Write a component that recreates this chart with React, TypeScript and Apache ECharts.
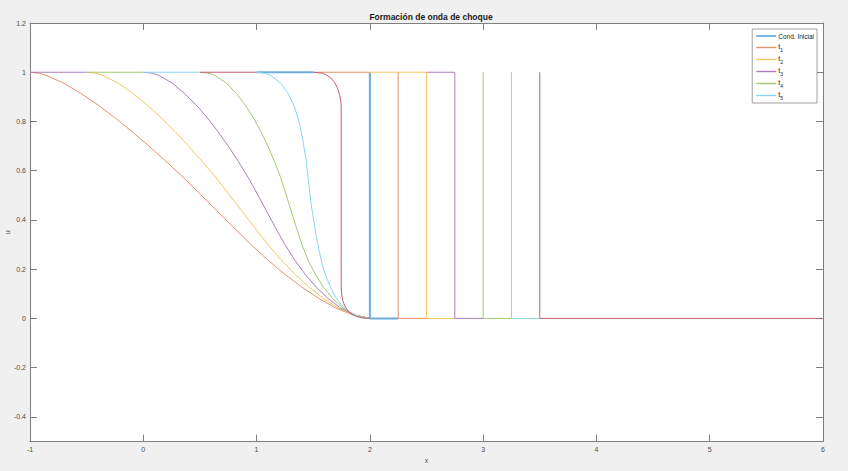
import React, { useEffect, useRef } from "react";
import * as echarts from "echarts";

// ---- data ----
const legendNames = ["Cond. Inicial", "t₁", "t₂", "t₃", "t₄", "t₅"];
const legendSubs = ["", "1", "2", "3", "4", "5"];
const lastName = "t₆";

const xTicks = [-1, 0, 1, 2, 3, 4, 5, 6];
const yTicks = [-0.4, -0.2, 0, 0.2, 0.4, 0.6, 0.8, 1, 1.2];

// Initial condition (step)
const condTop = [[1, 1], [1.5, 1]];
const condStep = [[2, 1], [2, 0], [2.25, 0]];

// t1 (orange)
const t1Profile = [
  [-1, 1], [-0.92, 0.996], [-0.85, 0.986], [-0.7, 0.955], [-0.55, 0.914], [-0.4, 0.867], [-0.25, 0.815],
  [-0.1, 0.759], [0.05, 0.7], [0.2, 0.638], [0.35, 0.574], [0.5, 0.506], [0.65, 0.437],
  [0.8, 0.368], [0.95, 0.3], [1.1, 0.237], [1.25, 0.179], [1.4, 0.127], [1.55, 0.081],
  [1.7, 0.042], [1.85, 0.014], [2, 0],
];
const t1Top = [[1.5, 1], [2, 1]];
const t1Step = [[2.25, 1], [2.25, 0], [2.5, 0]];

// t2 (yellow)
const t2Profile = [
  [-0.5, 1], [-0.42, 0.996], [-0.356, 0.987], [-0.222, 0.956], [-0.093, 0.914], [0.034, 0.867], [0.158, 0.815],
  [0.28, 0.759], [0.4, 0.7], [0.519, 0.638], [0.637, 0.574], [0.753, 0.506], [0.869, 0.437],
  [0.984, 0.368], [1.1, 0.3], [1.219, 0.237], [1.34, 0.179], [1.464, 0.127], [1.591, 0.081],
  [1.721, 0.042], [1.857, 0.014], [2, 0],
];
const t2Step = [[2, 1], [2.5, 1], [2.5, 0], [2.75, 0]];

// t3 (purple)
const t3Top = [[-1, 1], [-0.5, 1]];
const t3Profile = [
  [0, 1], [0.08, 0.996], [0.138, 0.987], [0.256, 0.956], [0.364, 0.914], [0.467, 0.867], [0.565, 0.815],
  [0.659, 0.759], [0.75, 0.7], [0.838, 0.638], [0.924, 0.574], [1.006, 0.506], [1.087, 0.437],
  [1.168, 0.368], [1.25, 0.3], [1.337, 0.237], [1.429, 0.179], [1.527, 0.127], [1.631, 0.081],
  [1.742, 0.042], [1.864, 0.014], [2, 0],
];
const t3Step = [[2.5, 1], [2.75, 1], [2.75, 0], [3, 0]];

// t4 (green)
const t4Top = [[-0.5, 1], [0, 1]];
const t4Profile = [
  [0.5, 1], [0.58, 0.996], [0.632, 0.987], [0.734, 0.956], [0.821, 0.914], [0.9, 0.867], [0.972, 0.815],
  [1.038, 0.759], [1.1, 0.7], [1.157, 0.638], [1.211, 0.574], [1.259, 0.506], [1.305, 0.437],
  [1.352, 0.368], [1.4, 0.3], [1.455, 0.237], [1.518, 0.179], [1.59, 0.127], [1.671, 0.081],
  [1.763, 0.042], [1.871, 0.014], [2, 0],
];
const t4Step = [[3, 1], [3, 0], [3.25, 0]];

// t5 (light blue)
const t5Top = [[0, 1], [0.5, 1]];
const t5Profile = [
  [1, 1], [1.07, 0.996], [1.126, 0.987], [1.212, 0.956], [1.278, 0.914], [1.334, 0.86], [1.38, 0.79],
  [1.41, 0.72], [1.438, 0.64], [1.46, 0.55], [1.48, 0.47], [1.5, 0.41], [1.525, 0.34],
  [1.555, 0.268], [1.585, 0.21], [1.614, 0.17], [1.654, 0.125], [1.7, 0.085], [1.75, 0.055],
  [1.8, 0.032], [1.878, 0.012], [1.94, 0.003], [2, 0],
];
const t5Step = [[3.25, 1], [3.25, 0], [3.5, 0]];

// t6 (red, not in legend)
const t6Top = [[0.5, 1], [1, 1]];
const t6Profile = [
  [1.5, 1], [1.58, 0.996], [1.62, 0.988], [1.66, 0.975], [1.69, 0.958], [1.715, 0.935],
  [1.735, 0.905], [1.744, 0.88], [1.747, 0.86], [1.747, 0.13], [1.752, 0.095], [1.762, 0.07],
  [1.785, 0.045], [1.82, 0.024], [1.87, 0.01], [1.93, 0.002], [2, 0],
];
const t6Step = [[3.5, 1], [3.5, 0], [6, 0]];

const colors = ["#6aaedf", "#e8926b", "#f2c862", "#ab7db9", "#a2c872", "#8ad4f2", "#c0606f"];

const groups: { name: string; color: string; width: number; segs: number[][][] }[] = [
  { name: legendNames[0], color: colors[0], width: 2, segs: [condTop, condStep] },
  { name: legendNames[1], color: colors[1], width: 1, segs: [t1Profile, t1Top, t1Step] },
  { name: legendNames[2], color: colors[2], width: 1, segs: [t2Profile, t2Step] },
  { name: legendNames[3], color: colors[3], width: 1, segs: [t3Top, t3Profile, t3Step] },
  { name: legendNames[4], color: colors[4], width: 1, segs: [t4Top, t4Profile, t4Step] },
  { name: legendNames[5], color: colors[5], width: 1, segs: [t5Top, t5Profile, t5Step] },
  { name: lastName, color: colors[6], width: 1, segs: [t6Top, t6Profile, t6Step] },
];

export default function App() {
  const ref = useRef<HTMLDivElement>(null);

  useEffect(() => {
    if (!ref.current) return;
    const chart = echarts.init(ref.current, undefined, { renderer: "svg" });

    const series: any[] = [];
    groups.forEach((g) => {
      g.segs.forEach((seg) => {
        series.push({
          type: "line",
          name: g.name,
          data: seg,
          symbol: "none",
          showSymbol: false,
          smooth: false,
          lineStyle: { color: g.color, width: g.width },
          itemStyle: { color: g.color },
          silent: true,
        });
      });
    });

    const axisColor = "#7f7f7f";
    const labelColor = "#4d4d4d";
    const font = "'Liberation Sans', Arial, Helvetica, sans-serif";

    const legendData = legendNames.map((n, i) => ({
      name: n,
      icon: i === 0 ? "path://M0,0H20V1.8H0Z" : "path://M0,0H20V1.4H0Z",
      itemStyle: { color: colors[i], borderWidth: 0 },
    }));

    const option: any = {
      animation: false,
      backgroundColor: "#f0f0f0",
      textStyle: { fontFamily: font },
      title: {
        text: "Formación de onda de choque",
        left: 431,
        textAlign: "center",
        top: 12,
        padding: 0,
        textStyle: { fontSize: 8.5, fontWeight: "bold", color: "#1a1a1a", fontFamily: font },
      },
      legend: {
        data: legendData,
        orient: "vertical",
        right: 31,
        top: 29,
        padding: [3, 3, 3, 4],
        itemGap: 3,
        itemWidth: 20,
        itemHeight: 8,
        symbolKeepAspect: true,
        backgroundColor: "#ffffff",
        borderColor: "#8a8a8a",
        borderWidth: 0.8,
        borderRadius: 0,
        selectedMode: false,
        formatter: (name: string) => {
          const i = legendNames.indexOf(name);
          if (i <= 0) return name;
          return "{t|t}{s|" + legendSubs[i] + "}";
        },
        textStyle: {
          fontSize: 6.5,
          color: "#1a1a1a",
          lineHeight: 8,
          fontFamily: font,
          padding: [0, 0, 0, -3],
          rich: {
            t: { fontSize: 7, color: "#1a1a1a", fontFamily: font, lineHeight: 8, padding: [0, 0, 2, 0] },
            s: { fontSize: 5, color: "#1a1a1a", fontFamily: font, lineHeight: 8, padding: [4, 0, 0, 0] },
          },
        },
      },
      grid: {
        left: 30,
        right: 25,
        top: 23,
        bottom: 29.5,
        containLabel: false,
        outerBoundsMode: "none",
        show: true,
        backgroundColor: "#ffffff",
        borderWidth: 0,
      },
      xAxis: [
        {
          type: "value",
          min: xTicks[0],
          max: xTicks[xTicks.length - 1],
          interval: 1,
          position: "bottom",
          name: "x",
          nameLocation: "middle",
          nameGap: 15,
          nameTextStyle: { fontSize: 7, color: labelColor },
          axisLine: { show: true, onZero: false, lineStyle: { color: axisColor, width: 1 } },
          axisTick: { show: true, inside: true, length: 7, lineStyle: { color: axisColor } },
          axisLabel: { fontSize: 7, color: labelColor, margin: 4 },
          splitLine: { show: false },
        },
        {
          type: "value",
          min: xTicks[0],
          max: xTicks[xTicks.length - 1],
          interval: 1,
          position: "top",
          axisLine: { show: true, onZero: false, lineStyle: { color: axisColor, width: 1 } },
          axisTick: { show: true, inside: true, length: 7, lineStyle: { color: axisColor } },
          axisLabel: { show: false },
          splitLine: { show: false },
        },
      ],
      yAxis: [
        {
          type: "value",
          min: -0.5,
          max: 1.2,
          position: "left",
          name: "u",
          nameLocation: "middle",
          nameRotate: 90,
          nameGap: 19,
          nameMoveOverlap: false,
          nameTextStyle: { fontSize: 7, color: labelColor },
          axisLine: { show: true, onZero: false, lineStyle: { color: axisColor, width: 1 } },
          axisTick: { show: true, inside: true, length: 7, customValues: yTicks, lineStyle: { color: axisColor } },
          axisLabel: { fontSize: 7, color: labelColor, margin: 4, customValues: yTicks },
          splitLine: { show: false },
        },
        {
          type: "value",
          min: -0.5,
          max: 1.2,
          position: "right",
          axisLine: { show: true, onZero: false, lineStyle: { color: axisColor, width: 1 } },
          axisTick: { show: true, inside: true, length: 7, customValues: yTicks, lineStyle: { color: axisColor } },
          axisLabel: { show: false, customValues: yTicks },
          splitLine: { show: false },
        },
      ],
      series,
    };

    chart.setOption(option);
    return () => chart.dispose();
  }, []);

  return (
    <div
      ref={ref}
      style={{ position: "fixed", left: 0, top: 0, width: 848, height: 471 }}
    />
  );
}
